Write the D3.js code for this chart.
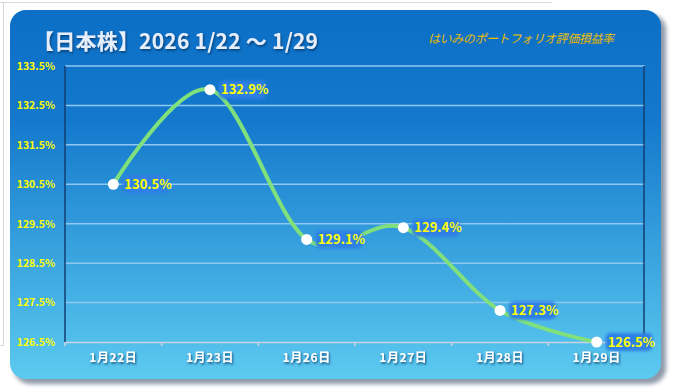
<!DOCTYPE html>
<html>
<head>
<meta charset="utf-8">
<script src="https://cdn.jsdelivr.net/npm/d3@7"></script>
<style>
  body { margin: 0; background: #fff; }
  svg { display: block; }
</style>
</head>
<body>
<div id="chart"></div>
<script>
// chart data
const dates = ['1月22日', '1月23日', '1月26日', '1月27日', '1月28日', '1月29日'];
const values = [130.5, 132.9, 129.1, 129.4, 127.3, 126.5];
const yTicks = [126.5, 127.5, 128.5, 129.5, 130.5, 131.5, 132.5, 133.5];
const titleText = '【日本株】2026 1/22 ～ 1/29';
const subtitleText = 'はいみのポートフォリオ評価損益率';

const W = 674, H = 392;
const plot = { left: 65, right: 645, top: 66, bottom: 342 };
const jp = '"Noto Sans CJK JP", "Noto Sans", sans-serif';

const svg = d3.select('#chart').append('svg')
    .attr('width', W)
    .attr('height', H);

const defs = svg.append('defs');

const bg = defs.append('linearGradient')
    .attr('id', 'bg').attr('x1', 0).attr('y1', 0).attr('x2', 0).attr('y2', 1);
bg.append('stop').attr('offset', '0%').attr('stop-color', '#0b6fc6');
bg.append('stop').attr('offset', '30%').attr('stop-color', '#1479cc');
bg.append('stop').attr('offset', '100%').attr('stop-color', '#5ccaf0');

const shadow = defs.append('filter').attr('id', 'txtShadow')
    .attr('x', '-10%').attr('y', '-20%').attr('width', '120%').attr('height', '150%');
shadow.append('feDropShadow').attr('dx', 1).attr('dy', 1.5)
    .attr('stdDeviation', 1).attr('flood-color', '#05305e').attr('flood-opacity', 0.8);

const glow = defs.append('filter').attr('id', 'glow')
    .attr('x', '-20%').attr('y', '-40%').attr('width', '140%').attr('height', '180%');
glow.append('feGaussianBlur').attr('stdDeviation', 1.5);

const panelShadow = defs.append('filter').attr('id', 'panelShadow')
    .attr('x', '-5%').attr('y', '-5%').attr('width', '110%').attr('height', '115%');
panelShadow.append('feGaussianBlur').attr('stdDeviation', 2);

const subGrad = defs.append('linearGradient')
    .attr('id', 'subGrad').attr('x1', 0).attr('y1', 0).attr('x2', 0).attr('y2', 1);
subGrad.append('stop').attr('offset', '0%').attr('stop-color', '#ffd400');
subGrad.append('stop').attr('offset', '100%').attr('stop-color', '#d8a800');

// faint outer frame
svg.append('path')
    .attr('d', 'M0,2.5 H552 M3.5,2.5 V345 M0,345.5 H4')
    .attr('fill', 'none')
    .attr('stroke', '#d8d8d8')
    .attr('stroke-width', 1);

// panel
svg.append('rect')
    .attr('x', 14).attr('y', 14).attr('width', 652).attr('height', 370)
    .attr('rx', 16)
    .attr('fill', '#8e9aa8')
    .attr('filter', 'url(#panelShadow)');
svg.append('rect')
    .attr('x', 10).attr('y', 10).attr('width', 651).attr('height', 369)
    .attr('rx', 16)
    .attr('fill', 'url(#bg)');

// scales
const x = d3.scaleBand().domain(dates).range([plot.left, plot.right]);
const y = d3.scaleLinear().domain([126.5, 133.5]).range([plot.bottom, plot.top]);

// gridlines
svg.append('g')
    .selectAll('line')
    .data(yTicks.filter(d => d !== 126.5))
    .join('line')
    .attr('x1', plot.left).attr('x2', plot.right)
    .attr('y1', d => y(d)).attr('y2', d => y(d))
    .attr('stroke', '#8ec8f0')
    .attr('stroke-width', 1.5);

// plot border left / right
svg.append('line')
    .attr('x1', plot.left).attr('x2', plot.left)
    .attr('y1', plot.top).attr('y2', plot.bottom)
    .attr('stroke', '#123e72').attr('stroke-width', 1.5);
svg.append('line')
    .attr('x1', plot.right - 1).attr('x2', plot.right - 1)
    .attr('y1', plot.top).attr('y2', plot.bottom)
    .attr('stroke', '#123e72').attr('stroke-width', 1.5);

// y axis labels
const yAxis = svg.append('g')
    .attr('transform', `translate(${plot.left},0)`)
    .call(d3.axisLeft(y).tickValues(yTicks).tickSize(0).tickPadding(10)
        .tickFormat(d => d.toFixed(1) + '%'));
yAxis.select('.domain').remove();
yAxis.selectAll('text')
    .attr('fill', '#ffff00')
    .attr('font-family', jp)
    .attr('font-weight', 'bold')
    .attr('font-size', 10.5);

// x axis
const xAxis = svg.append('g')
    .attr('transform', `translate(0,${plot.bottom})`)
    .call(d3.axisBottom(x).tickSize(0).tickPadding(11));
xAxis.select('.domain')
    .attr('stroke', '#c8d4e0').attr('stroke-width', 1.5);
xAxis.selectAll('text')
    .attr('fill', '#ffffff')
    .attr('font-family', jp)
    .attr('font-weight', 'bold')
    .attr('font-size', 12)
    .attr('letter-spacing', 0.6)
    .attr('filter', 'url(#txtShadow)');
xAxis.append('g')
    .selectAll('line')
    .data(d3.range(dates.length + 1))
    .join('line')
    .attr('x1', i => plot.left + i * x.step())
    .attr('x2', i => plot.left + i * x.step())
    .attr('y1', 0).attr('y2', 4)
    .attr('stroke', '#c8d4e0').attr('stroke-width', 1.5);

// line
const pts = dates.map((d, i) => [x(d) + x.bandwidth() / 2, y(values[i])]);
svg.append('path')
    .datum(pts)
    .attr('d', d3.line().curve(d3.curveCardinal.tension(0)))
    .attr('fill', 'none')
    .attr('stroke', '#7fe07c')
    .attr('stroke-width', 4)
    .attr('stroke-linecap', 'round');

// markers
svg.append('g')
    .selectAll('circle')
    .data(pts)
    .join('circle')
    .attr('cx', d => d[0]).attr('cy', d => d[1])
    .attr('r', 5.5)
    .attr('fill', '#ffffff');

// data labels
const labels = svg.append('g')
    .selectAll('g')
    .data(pts)
    .join('g')
    .attr('transform', d => `translate(${d[0] + 11},${d[1]})`);
labels.append('rect')
    .attr('x', -2).attr('y', -9).attr('width', 47).attr('height', 18)
    .attr('rx', 5)
    .attr('fill', '#2f7fe6')
    .attr('filter', 'url(#glow)');
labels.append('text')
    .attr('dy', '0.36em')
    .attr('fill', '#ffff00')
    .attr('font-family', jp)
    .attr('font-weight', 'bold')
    .attr('font-size', 13)
    .text((d, i) => values[i].toFixed(1) + '%');

// title
svg.append('text')
    .attr('x', 33).attr('y', 49)
    .attr('fill', '#e6eefa')
    .attr('font-family', jp)
    .attr('font-weight', 'bold')
    .attr('font-size', 21)
    .attr('textLength', 285)
    .attr('filter', 'url(#txtShadow)')
    .text(titleText);

// subtitle
svg.append('text')
    .attr('x', 428).attr('y', 43)
    .attr('fill', 'url(#subGrad)')
    .attr('font-family', jp)
    .attr('font-style', 'italic')
    .attr('font-size', 12)
    .attr('textLength', 186)
    .text(subtitleText);
</script>
</body>
</html>
